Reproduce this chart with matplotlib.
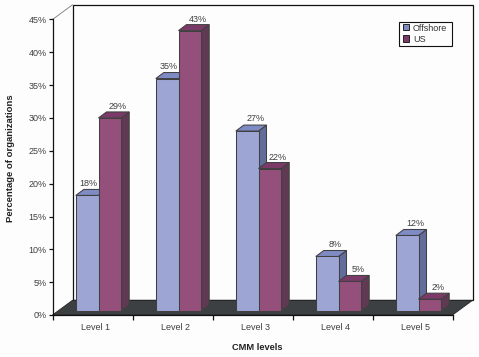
import matplotlib
matplotlib.use("Agg")
import matplotlib.pyplot as plt
from matplotlib.patches import Patch, Polygon, Rectangle

#chart values
levels = ["Level 1", "Level 2", "Level 3", "Level 4", "Level 5"]
offshore = [17.6, 35.4, 27.4, 8.3, 11.5]
us = [29.4, 42.7, 21.7, 4.5, 1.8]
offshore_labels = ["18%", "35%", "27%", "8%", "12%"]
us_labels = ["29%", "43%", "22%", "5%", "2%"]
y_ticks = [0, 5, 10, 15, 20, 25, 30, 35, 40, 45]

plt.rcParams["font.family"] = ["Liberation Sans", "DejaVu Sans"]

W, H = 479, 357
fig = plt.figure(figsize=(W / 100, H / 100), dpi=100, facecolor="#fdfdfd")

#axes box is the front plane of the fake 3d chart
ax = fig.add_axes([52.5 / W, (H - 315) / H, 400 / W, 295.5 / H])
ax.set_xlim(0, 5)
ax.set_ylim(0, 45)
ax.patch.set_visible(False)

#pixel sizes converted to data units
px_x = 1 / 80
px_y = 45 / 295.5
wall_dx, wall_dy = 20 * px_x, 14.7 * px_y
depth_dx, depth_dy = 8 * px_x, 6 * px_y
base = 4 * px_y
bar_w = 22.7 * px_x
shift = 6 * px_x

line = "#404040"
lw = 0.75


def add_poly(points, face, edge=line, width=lw, z=2):
    ax.add_patch(Polygon(points, closed=True, facecolor=face, edgecolor=edge,
                         linewidth=width, clip_on=False, zorder=z))


def draw_bar(left, value, front, top, side):
    right = left + bar_w
    high = base + value
    add_poly([(right, base), (right + depth_dx, base + depth_dy),
              (right + depth_dx, high + depth_dy), (right, high)], side)
    add_poly([(left, high), (right, high), (right + depth_dx, high + depth_dy),
              (left + depth_dx, high + depth_dy)], top)
    ax.bar(left, value, width=bar_w, bottom=base, align="edge", color=front,
           edgecolor=line, linewidth=lw, clip_on=False, zorder=2)


#back wall and floor
add_poly([(wall_dx, wall_dy), (5 + wall_dx, wall_dy), (5 + wall_dx, 45 + wall_dy),
          (wall_dx, 45 + wall_dy)], "#fdfdfd", "#111111", 0.9, 1)
add_poly([(0, 0), (5, 0), (5 + wall_dx, wall_dy), (wall_dx, wall_dy)],
         "#3c4042", "#222222", 0.6, 1.5)
ax.plot([0, wall_dx], [45, 45 + wall_dy], color="#777777", lw=0.6, clip_on=False, zorder=1)

#bars, left to right so the near faces overlap correctly
for i in range(len(levels)):
    x_off = i + 0.5 + shift - bar_w
    x_us = i + 0.5 + shift
    draw_bar(x_off, offshore[i], "#9da5d5", "#7e8bc4", "#636d9b")
    draw_bar(x_us, us[i], "#954f7b", "#7b3a68", "#5f3a52")

    #the offshore label moves left when the us bar hides its top
    nudge = 1.5 if us[i] > offshore[i] else 8
    ax.annotate(offshore_labels[i], (x_off + bar_w / 2, base + offshore[i]),
                xytext=(nudge * 0.72, 12.3 * 0.72), textcoords="offset points",
                ha="center", va="center", fontsize=6.5, color=line, zorder=5,
                annotation_clip=False)
    ax.annotate(us_labels[i], (x_us + bar_w / 2, base + us[i]),
                xytext=(8 * 0.72, 11.5 * 0.72), textcoords="offset points",
                ha="center", va="center", fontsize=6.5, color=line, zorder=5,
                annotation_clip=False)

#axes, ticks and labels
for name in ["top", "right"]:
    ax.spines[name].set_visible(False)
for name in ["left", "bottom"]:
    ax.spines[name].set_linewidth(0.9)
    ax.spines[name].set_color("#111111")
    ax.spines[name].set_zorder(3)

ax.set_yticks(y_ticks)
ax.set_yticklabels(["%d%%" % t for t in y_ticks])
ax.set_xticks(range(len(levels) + 1))
ax.set_xticklabels([])
ax.set_xticks([i + 0.5 + 2.6 * px_x for i in range(len(levels))], minor=True)
ax.set_xticklabels(levels, minor=True)
ax.tick_params(axis="y", length=3.2, width=0.9, color="#111111", pad=1,
               labelsize=6.5, labelcolor=line)
ax.tick_params(axis="x", which="major", length=3.8, width=0.9, color="#111111")
ax.tick_params(axis="x", which="minor", length=0, pad=5.5, labelsize=6.5,
               labelcolor=line)

fig.text(257 / W, 1 - 348 / H, "CMM levels", ha="center",
         va="center", fontsize=6.7, fontweight="bold", color="#222222")
fig.text(10.5 / W, 1 - 158 / H, "Percentage of organizations", rotation=90,
         ha="center", va="center", fontsize=6.8, fontweight="bold", color="#222222")

#legend, box drawn apart because its padding differs per side
ax.add_patch(Rectangle((346.8 / 400, 268.7 / 295.5), 52.4 / 400, 24 / 295.5,
                       transform=ax.transAxes, facecolor="#fdfdfd", edgecolor="#111111",
                       linewidth=0.8, clip_on=False, zorder=6))
handles = [Patch(facecolor="#7e8bc4", edgecolor="#222222", linewidth=0.7, label="Offshore"),
           Patch(facecolor="#7b3a68", edgecolor="#222222", linewidth=0.7, label="US")]
leg = ax.legend(handles=handles, loc="upper left", bbox_to_anchor=(350.8 / 400, 291.4 / 295.5),
                borderaxespad=0, fontsize=6.5, frameon=False,
                handlelength=0.66, handleheight=0.66, handletextpad=0.42,
                labelspacing=0.23, borderpad=0, labelcolor="#333333")
leg.set_zorder(7)

fig.savefig("out.png", dpi=100, facecolor=fig.get_facecolor())
